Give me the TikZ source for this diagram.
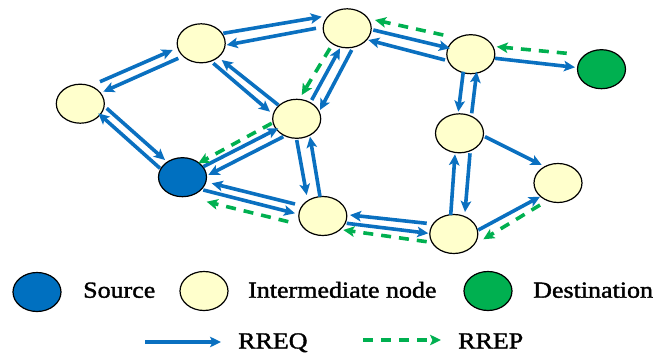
\documentclass[tikz,border=0pt]{standalone}
\usepackage{fontspec}
\setmainfont{Liberation Serif}[FakeStretch=1.13,FakeBold=1.5]
\usetikzlibrary{shapes.geometric,arrows.meta,calc}
\definecolor{reqblue}{HTML}{0A70C0}
\definecolor{srcblue}{HTML}{0070C0}
\definecolor{repgreen}{HTML}{00B050}
\definecolor{dstgreen}{HTML}{00B050}
\definecolor{nodeyellow}{HTML}{FFFFCC}
\tikzset{
  netnode/.style={ellipse, draw=black, line width=1.2pt, minimum width=48pt, minimum height=39pt, inner sep=0pt},
  inter/.style={netnode, fill=nodeyellow},
  src/.style={netnode, fill=srcblue},
  dst/.style={netnode, fill=dstgreen},
  req/.style={draw=reqblue, line width=3.6pt, -{Stealth[length=11pt,width=10.5pt,inset=2.5pt]}},
  rep/.style={draw=repgreen, line width=3.6pt, dash pattern=on 10pt off 8pt, -{Stealth[length=11pt,width=10.5pt,inset=2.5pt]}},
  legtext/.style={anchor=base west, inner sep=0pt, font=\fontsize{23}{23}\selectfont}
}
\begin{document}
\begin{tikzpicture}[x=1pt,y=-1pt]
\useasboundingbox (0,0) rectangle (661,353);
% nodes
\node[inter] (A) at (80.3,103.7) {};
\node[inter] (B) at (201.2,43.3) {};
\node[src]   (S) at (182.5,177.2) {};
\node[inter] (C) at (296.7,118.8) {};
\node[inter] (D) at (322.8,216) {};
\node[inter] (E) at (347.2,28.3) {};
\node[inter] (F) at (470.8,54.2) {};
\node[dst]   (G) at (601.5,69.2) {};
\node[inter] (H) at (459.5,133.3) {};
\node[inter] (I) at (558,183) {};
\node[inter] (J) at (453.8,234) {};
% A-B
\draw[req] ($(A)+(19.7,-22)$) -- ($(B)+(-28.5,6.7)$);
\draw[req] ($(B)+(-22.9,15)$) -- ($(A)+(23,-12)$);
% B-E
\draw[req] ($(B)+(22.1,-10)$) -- ($(E)+(-25.5,-11.6)$);
\draw[req] ($(E)+(-31.2,0)$) -- ($(B)+(25.5,1.7)$);
% B-C
\draw[req] ($(B)+(12.1,20)$) -- ($(C)+(-26.7,-7.1)$);
\draw[req] ($(C)+(-18.4,-13.8)$) -- ($(B)+(20.5,16.7)$);
% A-S
\draw[req] ($(A)+(26.4,4.6)$) -- ($(S)+(-17.5,-17.2)$);
\draw[req] ($(S)+(-22.5,-8.9)$) -- ($(A)+(18,9.6)$);
% S-C
\draw[req] ($(S)+(20.8,-10.5)$) -- ($(C)+(-18.4,9.5)$);
\draw[req] ($(C)+(-13.4,17.9)$) -- ($(S)+(25.8,-2.2)$);
\draw[rep] ($(C)+(-25,4.5)$) -- ($(S)+(15.8,-13.9)$);
% S-D
\draw[req] ($(D)+(-27.8,-12)$) -- ($(S)+(29.2,6.1)$);
\draw[req] ($(S)+(20.8,12.8)$) -- ($(D)+(-27.8,-2.7)$);
\draw[rep] ($(D)+(-34.5,5.7)$) -- ($(S)+(24.2,24.5)$);
% C-D
\draw[req] ($(C)+(0,21.2)$) -- ($(D)+(-16.1,-21)$);
\draw[req] ($(D)+(-2.8,-19.3)$) -- ($(C)+(13.3,17.9)$);
% C-E
\draw[req] ($(C)+(15,-18.8)$) -- ($(E)+(-7.2,20)$);
\draw[req] ($(E)+(4.5,21.7)$) -- ($(C)+(23.3,-8.8)$);
\draw[rep] ($(E)+(-17.2,20)$) -- ($(C)+(5,-23.8)$);
% E-F
\draw[req] ($(E)+(26.1,1.7)$) -- ($(F)+(-20.8,-5.9)$);
\draw[req] ($(F)+(-25.8,5.8)$) -- ($(E)+(21.1,11.7)$);
\draw[rep] ($(F)+(-27.5,-19.2)$) -- ($(E)+(27.8,-8.3)$);
% F-G
\draw[req] ($(F)+(24.2,4.1)$) -- ($(G)+(-26.5,-1.9)$);
\draw[rep] ($(G)+(-34.8,-15.9)$) -- ($(F)+(25.9,-7.5)$);
% F-H
\draw[req] ($(F)+(-7.5,17.5)$) -- ($(H)+(-1.2,-21.6)$);
\draw[req] ($(H)+(12.2,-20)$) -- ($(F)+(5.9,17.5)$);
% H-I
\draw[req] ($(H)+(25.5,3.4)$) -- ($(I)+(-16.3,-18)$);
% H-J
\draw[req] ($(J)+(-3.1,-19)$) -- ($(H)+(-4.5,21)$);
\draw[req] ($(H)+(10.5,20)$) -- ($(J)+(11.2,-22)$);
% D-J
\draw[req] ($(J)+(-27.1,-10.7)$) -- ($(D)+(27.2,-1)$);
\draw[req] ($(D)+(23.9,7.3)$) -- ($(J)+(-25.5,-0.7)$);
\draw[rep] ($(J)+(-27.1,7.7)$) -- ($(D)+(20.5,14)$);
% J-I
\draw[req] ($(J)+(24.5,-4)$) -- ($(I)+(-18,13.7)$);
\draw[rep] ($(I)+(-18,22)$) -- ($(J)+(29.5,5.3)$);
% legend
\node[src]   (LS) at (37,292) {};
\node[legtext] (LSt) at (83,297.7) {Source};
\node[inter] (LI) at (204,291) {};
\node[legtext] (LIt) at (248,297.7) {Intermediate node};
\node[dst]   (LD) at (488,291) {};
\node[legtext] (LDt) at (533,297.7) {Destination};
\coordinate (q1) at (145,342);
\coordinate (q2) at (221,342);
\draw[req, line width=3.2pt] (q1) -- (q2);
\node[legtext] (Lq) at (238,348.5) {RREQ};
\coordinate (p1) at (363,340);
\coordinate (p2) at (441,340);
\draw[rep, line width=3.2pt] (p1) -- (p2);
\node[legtext] (Lp) at (458,348.5) {RREP};
\end{tikzpicture}
\end{document}
